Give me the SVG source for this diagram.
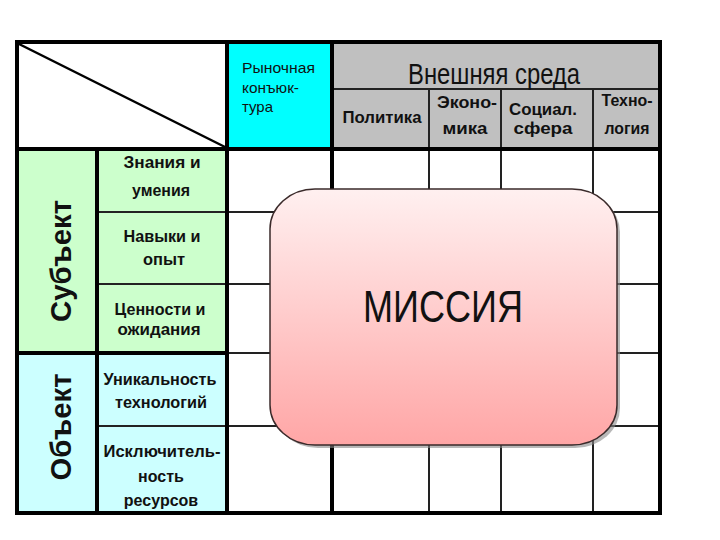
<svg xmlns="http://www.w3.org/2000/svg" width="720" height="540" viewBox="0 0 720 540">
<defs>
<linearGradient id="pink" x1="0" y1="0" x2="0" y2="1">
<stop offset="0" stop-color="#fff0f0"/>
<stop offset="1" stop-color="#ffa6a6"/>
</linearGradient>
<style>
.thin{stroke:#222;stroke-width:2;fill:none}
.thick{stroke:#000;stroke-width:4;fill:none}
.b{font-family:"Liberation Sans",Arial,sans-serif;font-weight:bold;font-size:16px;fill:#111;text-anchor:middle}
.v{font-family:"Liberation Sans",Arial,sans-serif;font-weight:bold;font-size:30px;fill:#111;text-anchor:middle}
.r{font-family:"Liberation Sans",Arial,sans-serif;font-size:15px;fill:#111}
</style>
</defs>
<rect width="720" height="540" fill="#fff"/>
<g id="cells">
<rect x="17" y="42" width="210" height="107" fill="#fff"/>
<rect x="227" y="42" width="105" height="107" fill="#00ffff"/>
<rect x="332" y="42" width="328" height="107" fill="#c0c0c0"/>
<rect x="17" y="149" width="210" height="204" fill="#ccffcc"/>
<rect x="17" y="353" width="210" height="160" fill="#ccffff"/>
</g>
<g id="grid">
<line class="thin" x1="332" y1="89" x2="660" y2="89"/>
<line class="thin" x1="429" y1="89" x2="429" y2="513"/>
<line class="thin" x1="501" y1="89" x2="501" y2="513"/>
<line class="thin" x1="593" y1="89" x2="593" y2="513"/>
<line class="thin" x1="97" y1="212" x2="660" y2="212"/>
<line class="thin" x1="97" y1="284" x2="660" y2="284"/>
<line class="thin" x1="227" y1="353" x2="660" y2="353"/>
<line class="thin" x1="97" y1="426" x2="660" y2="426"/>
<line class="thick" x1="17" y1="353" x2="227" y2="353"/>
<line class="thick" x1="97" y1="149" x2="97" y2="513"/>
<line class="thick" x1="227" y1="42" x2="227" y2="513"/>
<line class="thick" x1="332" y1="42" x2="332" y2="513"/>
<line class="thick" x1="17" y1="149" x2="660" y2="149"/>
<line x1="19" y1="44" x2="227" y2="148" stroke="#000" stroke-width="2.5"/>
<rect class="thick" x="17" y="42" width="643" height="471"/>
</g>
<g id="header-texts">
<text class="r" x="242" y="73" textLength="73" lengthAdjust="spacingAndGlyphs">Рыночная</text>
<text class="r" x="242" y="93" textLength="57" lengthAdjust="spacingAndGlyphs">конъюк-</text>
<text class="r" x="242" y="112" textLength="31" lengthAdjust="spacingAndGlyphs">тура</text>
<text x="494" y="84" font-family="Liberation Sans,Arial,sans-serif" font-size="29" fill="#111" text-anchor="middle" textLength="172" lengthAdjust="spacingAndGlyphs">Внешняя среда</text>
<text class="b" x="382" y="123" textLength="79" lengthAdjust="spacingAndGlyphs">Политика</text>
<text class="b" x="467" y="108" textLength="60" lengthAdjust="spacingAndGlyphs">Эконо-</text>
<text class="b" x="465" y="134" textLength="45" lengthAdjust="spacingAndGlyphs">мика</text>
<text class="b" x="543" y="115" textLength="68" lengthAdjust="spacingAndGlyphs">Социал.</text>
<text class="b" x="543" y="134" textLength="59" lengthAdjust="spacingAndGlyphs">сфера</text>
<text class="b" x="627" y="106" textLength="51" lengthAdjust="spacingAndGlyphs">Техно-</text>
<text class="b" x="627" y="134" textLength="45" lengthAdjust="spacingAndGlyphs">логия</text>
</g>
<g id="subject">
<text class="b" x="162" y="168" textLength="77" lengthAdjust="spacingAndGlyphs">Знания и</text>
<text class="b" x="161" y="196" textLength="58" lengthAdjust="spacingAndGlyphs">умения</text>
<text class="b" x="162" y="242" textLength="77" lengthAdjust="spacingAndGlyphs">Навыки и</text>
<text class="b" x="164" y="265" textLength="42" lengthAdjust="spacingAndGlyphs">опыт</text>
<text class="b" x="160" y="315" textLength="91" lengthAdjust="spacingAndGlyphs">Ценности и</text>
<text class="b" x="159" y="335" textLength="83" lengthAdjust="spacingAndGlyphs">ожидания</text>
<text class="v" transform="translate(71,261) rotate(-90)" textLength="122" lengthAdjust="spacingAndGlyphs" x="0" y="0">Субъект</text>
</g>
<g id="object">
<text class="b" x="160" y="385" textLength="113" lengthAdjust="spacingAndGlyphs">Уникальность</text>
<text class="b" x="161" y="408" textLength="92" lengthAdjust="spacingAndGlyphs">технологий</text>
<text class="b" x="162" y="457" textLength="117" lengthAdjust="spacingAndGlyphs">Исключитель-</text>
<text class="b" x="161" y="482">ность</text>
<text class="b" x="161" y="506">ресурсов</text>
<text class="v" transform="translate(71,427) rotate(-90)" textLength="107" lengthAdjust="spacingAndGlyphs" x="0" y="0">Объект</text>
</g>
<g id="mission">
<rect x="273" y="192" width="347" height="256" rx="45" ry="40" fill="#888" opacity="0.6"/>
<rect x="270" y="189" width="347" height="256" rx="45" ry="40" fill="url(#pink)" stroke="#3a2a2a" stroke-width="1.5"/>
<text x="443" y="322" font-family="Liberation Sans,Arial,sans-serif" font-size="44" fill="#111" text-anchor="middle" textLength="160" lengthAdjust="spacingAndGlyphs">МИССИЯ</text>
</g>
</svg>
